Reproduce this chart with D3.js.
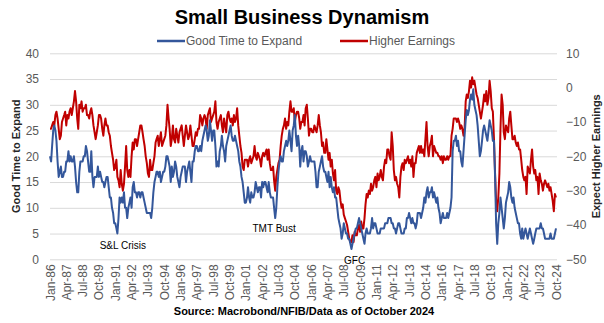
<!DOCTYPE html>
<html>
<head>
<meta charset="utf-8">
<script src="https://cdn.jsdelivr.net/npm/d3@7/dist/d3.min.js"></script>
<style>
  body { margin: 0; background: #fff; }
  svg text { font-family: "Liberation Sans", Arial, sans-serif; }
</style>
</head>
<body>
<div id="chart"></div>
<script>
// monthly NFIB readings, Jan-86 .. Oct-24 (one row per year)
const firstMonth = "Jan-86";

const goodTimeToExpand = [
  20, 19, 22, 25, 26, 25, 23, 19, 16, 17, 18, 16,
  16, 17, 17, 19, 19, 21, 19, 20, 19, 19, 20, 18,
  15, 13, 13, 17, 19, 19, 19, 20, 20, 22, 21, 19,
  17, 17, 21, 16, 14, 16, 16, 16, 18, 16, 17, 16,
  15, 15, 14, 15, 16, 16, 14, 12, 12, 10, 9, 7,
  7, 6, 5, 8, 12, 11, 12, 11, 13, 10, 10, 8,
  10, 11, 12, 10, 14, 15, 13, 13, 12, 13, 13, 12,
  13, 13, 12, 11, 10, 9, 9, 9, 9, 8, 10, 13,
  15, 16, 17, 17, 16, 17, 15, 16, 17, 17, 18, 20,
  20, 19, 18, 15, 18, 16, 17, 19, 18, 16, 15, 14,
  16, 17, 18, 18, 18, 15, 17, 18, 19, 17, 15, 19,
  19, 21, 22, 22, 21, 21, 22, 21, 23, 24, 25, 26,
  25, 23, 24, 27, 25, 23, 25, 25, 22, 18, 19, 18,
  21, 22, 24, 22, 21, 19, 22, 23, 24, 25, 26, 24,
  23, 23, 24, 23, 22, 21, 19, 18, 16, 15, 13, 11,
  11, 12, 14, 12, 11, 13, 12, 12, 13, 15, 14, 13,
  14, 14, 12, 15, 14, 15, 15, 14, 13, 15, 13, 12,
  12, 12, 10, 8, 10, 14, 17, 19, 20, 19, 19, 21,
  22, 23, 22, 23, 25, 23, 21, 25, 26, 28, 24, 22,
  24, 22, 18, 21, 22, 19, 21, 21, 20, 18, 19, 20,
  19, 19, 19, 19, 17, 14, 14, 17, 18, 19, 20, 18,
  17, 17, 16, 15, 17, 14, 16, 14, 13, 14, 12, 12,
  10, 8, 7, 6, 4, 5, 7, 6, 5, 5, 4, 4,
  3, 2, 3, 4, 5, 6, 6, 7, 8, 7, 6, 5,
  4, 3, 5, 6, 5, 5, 5, 6, 8, 6, 7, 7,
  6, 5, 5, 5, 6, 6, 6, 6, 7, 7, 7, 8,
  8, 8, 7, 7, 6, 6, 5, 6, 7, 7, 6, 5,
  5, 5, 6, 6, 8, 8, 9, 8, 7, 8, 7, 7,
  6, 7, 9, 9, 9, 8, 9, 10, 12, 11, 13, 14,
  12, 13, 13, 14, 12, 13, 12, 11, 12, 10, 9, 7,
  8, 9, 8, 8, 8, 9, 8, 9, 10, 12, 21, 23,
  23, 24, 22, 23, 21, 21, 19, 18, 21, 24, 27, 29,
  28, 29, 31, 32, 31, 33, 30, 29, 28, 26, 23, 20,
  21, 23, 25, 26, 25, 24, 23, 25, 27, 26, 25, 23,
  23, 16, 7, 3, 7, 9, 12, 10, 8, 6, 8, 11,
  12, 13, 15, 14, 12, 11, 12, 10, 9, 8, 7, 7,
  5, 4, 6, 4, 5, 6, 5, 4, 5, 6, 5, 4,
  3, 4, 5, 6, 6, 6, 6, 7, 6, 6, 5, 4,
  4, 4, 4, 4, 5, 4, 4, 4, 5, 6
];

const higherEarnings = [
  -12, -12, -11, -10, -11, -8, -7, -9, -12, -15, -14, -10,
  -9, -8, -7, -11, -8, -9, -7, -6, -8, -6, -4, -1,
  -4, -9, -12, -5, -6, -4, -7, -6, -6, -5, -8, -8,
  -9, -7, -6, -8, -11, -13, -15, -13, -11, -8, -8, -9,
  -12, -14, -11, -9, -11, -11, -13, -14, -17, -19, -21, -24,
  -23, -21, -26, -27, -29, -24, -28, -30, -28, -23, -17, -24,
  -26, -24, -26, -20, -16, -18, -15, -15, -17, -15, -13, -11,
  -11, -13, -15, -17, -20, -22, -25, -26, -21, -24, -24, -22,
  -20, -16, -15, -14, -17, -15, -13, -17, -16, -15, -14, -11,
  -5, -9, -12, -17, -15, -11, -15, -16, -12, -14, -16, -13,
  -12, -11, -14, -17, -14, -11, -13, -15, -14, -11, -14, -17,
  -17, -15, -13, -14, -12, -12, -8, -9, -11, -9, -8, -9,
  -12, -8, -7, -6, -10, -9, -8, -7, -4, -10, -12, -10,
  -9, -8, -11, -13, -9, -11, -13, -8, -7, -9, -10, -9,
  -11, -8, -10, -9, -6, -11, -14, -17, -19, -23, -24, -21,
  -21, -21, -23, -21, -20, -22, -21, -20, -17, -20, -21, -19,
  -20, -21, -23, -20, -19, -20, -19, -18, -21, -18, -22, -24,
  -24, -23, -27, -30, -26, -24, -22, -21, -17, -14, -12, -11,
  -9, -12, -10, -11, -7, -4, -7, -7, -6, -10, -8, -7,
  -7, -9, -12, -10, -10, -8, -11, -6, -5, -9, -14, -12,
  -12, -13, -13, -11, -12, -13, -11, -8, -11, -13, -17, -16,
  -19, -19, -15, -18, -21, -19, -23, -21, -25, -27, -24, -30,
  -31, -29, -30, -33, -35, -34, -37, -38, -39, -40, -42, -44,
  -45, -45, -43, -45, -42, -43, -43, -41, -40, -42, -39, -41,
  -41, -38, -34, -31, -32, -30, -31, -28, -30, -29, -27, -26,
  -29, -25, -27, -26, -24, -26, -27, -23, -21, -22, -18, -18,
  -20, -21, -13, -17, -24, -27, -26, -28, -29, -32, -26, -23,
  -22, -24, -21, -22, -21, -20, -22, -21, -23, -20, -26, -22,
  -22, -19, -18, -17, -19, -17, -19, -18, -20, -15, -10, -17,
  -20, -17, -16, -14, -20, -17, -18, -19, -19, -20, -20, -21,
  -20, -22, -20, -21, -21, -20, -21, -20, -20, -14, -12, -9,
  -9, -9, -10, -9, -10, -12, -11, -12, -14, -12, -4, -2,
  -3, -1, 2, 0, 3, 1, 2, 0, -2, -3, -5, -7,
  -9, -7, -5, -2, -4, -1, -5, -3, 2, -1, -6, -7,
  -15, -25, -33, -36, -32, -25, -12, -2, -5, -13, -15, -11,
  -12, -13, -9, -7, -11, -15, -15, -14, -16, -17, -16, -18,
  -18, -21, -24, -26, -27, -26, -31, -23, -24, -25, -21, -18,
  -23, -25, -24, -27, -26, -31, -25, -27, -28, -30, -28, -27,
  -28, -29, -28, -30, -29, -31, -33, -36, -31, -32
];

const xTickLabels = [
  "Jan-86", "Apr-87", "Jul-88", "Oct-89", "Jan-91", "Apr-92", "Jul-93", "Oct-94",
  "Jan-96", "Apr-97", "Jul-98", "Oct-99", "Jan-01", "Apr-02", "Jul-03", "Oct-04",
  "Jan-06", "Apr-07", "Jul-08", "Oct-09", "Jan-11", "Apr-12", "Jul-13", "Oct-14",
  "Jan-16", "Apr-17", "Jul-18", "Oct-19", "Jan-21", "Apr-22", "Jul-23", "Oct-24"
];
const leftTicks = [0, 5, 10, 15, 20, 25, 30, 35, 40];
const rightTicks = [-50, -40, -30, -20, -10, 0, 10];
const seriesNames = ["Good Time to Expand", "Higher Earnings"];

// event labels: text, month, level on the left axis
const eventLabels = ["S&L Crisis", "TMT Bust", "GFC"];
const eventMonths = ["Aug-91", "Mar-03", "May-09"];
const eventLevels = [2, 5.3, -0.9];

const W = 604, H = 323;
const plot = { left: 50, right: 557, top: 53.3, bottom: 259.3 };
const blue = "#34579b", red = "#c00000", grey = "#595959", gridCol = "#d9d9d9";

const parseMonth = d3.timeParse("%b-%y");
const start = parseMonth(firstMonth);
const months = goodTimeToExpand.map((_, i) => d3.timeMonth.offset(start, i));

const x = d3.scaleTime()
  .domain([months[0], months[months.length - 1]])
  .range([plot.left, plot.right - 1]);
const yLeft = d3.scaleLinear().domain([0, 40]).range([plot.bottom, plot.top]);
const yRight = d3.scaleLinear().domain([-50, 10]).range([plot.bottom, plot.top]);

const svg = d3.select("#chart").append("svg")
  .attr("width", W).attr("height", H);

// gridlines
svg.append("g")
  .attr("transform", `translate(${plot.left},0)`)
  .call(d3.axisLeft(yLeft).tickValues(leftTicks).tickSize(-(plot.right - plot.left)).tickFormat(""))
  .call(g => g.select(".domain").remove())
  .selectAll("line").attr("stroke", gridCol).attr("stroke-width", 1);

// left axis
svg.append("g")
  .attr("transform", `translate(${plot.left},0)`)
  .call(d3.axisLeft(yLeft).tickValues(leftTicks).tickSize(0).tickPadding(11))
  .call(g => g.select(".domain").remove())
  .selectAll("text")
  .attr("fill", grey).style("font-size", "12px");

// right axis
svg.append("g")
  .attr("transform", `translate(${plot.right},0)`)
  .call(d3.axisRight(yRight).tickValues(rightTicks).tickSize(0).tickPadding(9))
  .call(g => g.select(".domain").remove())
  .selectAll("text")
  .attr("fill", grey).style("font-size", "12px");

// bottom axis, rotated labels
svg.append("g")
  .attr("transform", `translate(0,${plot.bottom + 5})`)
  .call(d3.axisBottom(x).tickValues(xTickLabels.map(parseMonth))
    .tickFormat(d3.timeFormat("%b-%y")).tickSize(0).tickPadding(0))
  .call(g => g.select(".domain").remove())
  .selectAll("text")
  .attr("fill", grey).style("font-size", "12px")
  .attr("transform", "rotate(-90)")
  .attr("x", 0).attr("y", 4).attr("dy", 0)
  .style("text-anchor", "end");

// lines
const lineLeft = d3.line().x((d, i) => x(months[i])).y(d => yLeft(d));
const lineRight = d3.line().x((d, i) => x(months[i])).y(d => yRight(d));

svg.append("path").datum(higherEarnings)
  .attr("fill", "none").attr("stroke", red).attr("stroke-width", 2)
  .attr("stroke-linejoin", "round")
  .attr("d", lineRight);

svg.append("path").datum(goodTimeToExpand)
  .attr("fill", "none").attr("stroke", blue).attr("stroke-width", 2)
  .attr("stroke-linejoin", "round")
  .attr("d", lineLeft);

// event labels
svg.selectAll(".event").data(eventLabels).enter().append("text")
  .attr("class", "event")
  .attr("x", (d, i) => x(parseMonth(eventMonths[i])))
  .attr("y", (d, i) => yLeft(eventLevels[i]))
  .attr("text-anchor", "middle")
  .style("font-size", "10px")
  .attr("fill", "#000")
  .text(d => d);

// title
svg.append("text")
  .attr("x", W / 2).attr("y", 24)
  .attr("text-anchor", "middle")
  .style("font-size", "20px").style("font-weight", "bold")
  .attr("fill", "#000")
  .text("Small Business Dynamism");

// legend
const legendX = [157, 340];
const legendCol = [blue, red];
const lg = svg.selectAll(".legend").data(seriesNames).enter().append("g")
  .attr("transform", (d, i) => `translate(${legendX[i]},41)`);
lg.append("line").attr("x1", 0).attr("x2", 28).attr("y1", 0).attr("y2", 0)
  .attr("stroke", (d, i) => legendCol[i]).attr("stroke-width", 2.5);
lg.append("text").attr("x", 29).attr("y", 4)
  .style("font-size", "12px").attr("fill", grey)
  .text(d => d);

// axis titles (both read bottom to top)
svg.append("text")
  .attr("transform", `translate(20,${(plot.top + plot.bottom) / 2}) rotate(-90)`)
  .attr("text-anchor", "middle")
  .style("font-size", "11px").style("font-weight", "bold")
  .attr("fill", "#262626")
  .text("Good Time to Expand");

svg.append("text")
  .attr("transform", `translate(600,${(plot.top + plot.bottom) / 2}) rotate(-90)`)
  .attr("text-anchor", "middle")
  .style("font-size", "11px").style("font-weight", "bold")
  .attr("fill", "#262626")
  .text("Expect Higher Earnings");

// source
svg.append("text")
  .attr("x", 304).attr("y", 315)
  .attr("text-anchor", "middle")
  .style("font-size", "11px").style("font-weight", "bold")
  .attr("fill", "#000")
  .text("Source: Macrobond/NFIB/Data as of October 2024");
</script>
</body>
</html>
